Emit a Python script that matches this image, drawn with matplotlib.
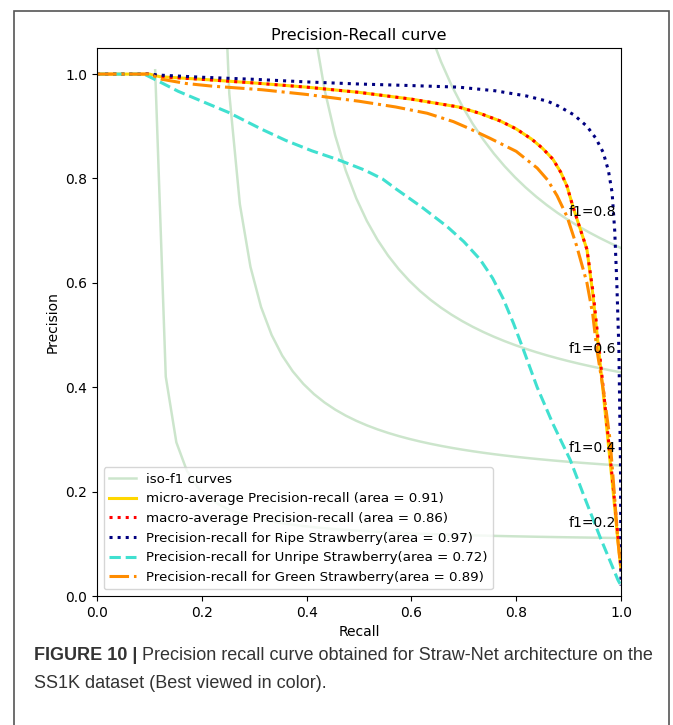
import numpy as np
import matplotlib
matplotlib.use("Agg")
import matplotlib.pyplot as plt
from matplotlib.patches import Rectangle

# ---- data ----
f1_levels = [0.2, 0.4, 0.6, 0.8]

micro_recall = [0.0, 0.10, 0.12, 0.20, 0.30, 0.40, 0.50, 0.60, 0.69, 0.73, 0.77, 0.80, 0.83, 0.85,
                0.87, 0.885, 0.897, 0.908, 0.92, 0.935, 0.946, 0.956, 0.966, 0.975, 0.985, 0.994, 1.0]
micro_prec   = [1.0, 1.00, 0.995, 0.99, 0.983, 0.975, 0.965, 0.952, 0.937, 0.925, 0.910, 0.895, 0.875, 0.858,
                0.837, 0.812, 0.785, 0.747, 0.71, 0.664, 0.58, 0.486, 0.39, 0.30, 0.20, 0.107, 0.05]

macro_recall = [0.0, 0.10, 0.12, 0.20, 0.30, 0.40, 0.50, 0.60, 0.69, 0.73, 0.77, 0.80, 0.83, 0.85,
                0.87, 0.885, 0.897, 0.908, 0.92, 0.935, 0.947, 0.957, 0.967, 0.976, 0.986, 0.995, 1.0]
macro_prec   = [1.0, 1.00, 0.995, 0.99, 0.983, 0.975, 0.965, 0.952, 0.937, 0.925, 0.910, 0.895, 0.875, 0.858,
                0.837, 0.812, 0.785, 0.747, 0.71, 0.664, 0.58, 0.486, 0.39, 0.30, 0.20, 0.107, 0.05]

ripe_recall = [0.0, 0.10, 0.12, 0.20, 0.30, 0.40, 0.50, 0.60, 0.69, 0.76, 0.82, 0.86, 0.88, 0.91,
               0.935, 0.952, 0.966, 0.976, 0.983, 0.988, 0.992, 0.996, 0.999, 1.0]
ripe_prec   = [1.0, 1.00, 0.998, 0.994, 0.99, 0.985, 0.981, 0.978, 0.975, 0.968, 0.958, 0.948, 0.939, 0.922,
               0.900, 0.877, 0.850, 0.815, 0.773, 0.70, 0.60, 0.472, 0.25, 0.02]

unripe_recall = [0.0, 0.09, 0.12, 0.155, 0.20, 0.25, 0.315, 0.36, 0.41, 0.46, 0.511, 0.545, 0.572, 0.62,
                 0.668, 0.70, 0.731, 0.755, 0.775, 0.795, 0.813, 0.84, 0.87, 0.903, 0.93, 0.96, 0.98, 0.994, 1.0]
unripe_prec   = [1.0, 1.00, 0.985, 0.967, 0.948, 0.927, 0.894, 0.873, 0.853, 0.836, 0.816, 0.799, 0.779, 0.745,
                 0.708, 0.679, 0.645, 0.609, 0.570, 0.522, 0.474, 0.40, 0.33, 0.261, 0.19, 0.113, 0.065, 0.031, 0.02]

green_recall = [0.0, 0.10, 0.124, 0.17, 0.219, 0.315, 0.40, 0.50, 0.57, 0.63, 0.68, 0.712, 0.75, 0.80,
                0.84, 0.86, 0.878, 0.897, 0.915, 0.935, 0.946, 0.954, 0.967, 0.979, 0.987, 0.994, 1.0]
green_prec   = [1.0, 1.00, 0.99, 0.982, 0.977, 0.970, 0.961, 0.948, 0.937, 0.925, 0.909, 0.895, 0.877, 0.852,
                0.820, 0.797, 0.767, 0.727, 0.672, 0.60, 0.54, 0.472, 0.39, 0.30, 0.20, 0.107, 0.05]

labels = [
    "iso-f1 curves",
    "micro-average Precision-recall (area = 0.91)",
    "macro-average Precision-recall (area = 0.86)",
    "Precision-recall for Ripe Strawberry(area = 0.97)",
    "Precision-recall for Unripe Strawberry(area = 0.72)",
    "Precision-recall for Green Strawberry(area = 0.89)",
]

W, H = 673, 725
fig = plt.figure(figsize=(W / 100, H / 100), dpi=100)

# border box
fig.patches.append(Rectangle((14 / W, -0.01), (669 - 14) / W, 1 - 11 / H + 0.01,
                             transform=fig.transFigure, fill=False,
                             edgecolor="#555555", linewidth=1.2))

ax = fig.add_axes([97 / W, 1 - 596 / H, (621 - 97) / W, (596 - 48) / H])

iso_line = None
for f in f1_levels:
    x = np.linspace(0.01, 1, 50)
    y = f * x / (2 * x - f)
    m = y >= 0
    iso_line, = ax.plot(x[m], y[m], color="green", alpha=0.2, lw=1.8)
    ax.annotate("f1={0:0.1f}".format(f), xy=(0.9, y[45] + 0.02), fontsize=10)

lw = 2.2
l1, = ax.plot(micro_recall, micro_prec, color="gold", lw=lw)
l2, = ax.plot(macro_recall, macro_prec, color="red", lw=lw, linestyle=":")
l3, = ax.plot(ripe_recall, ripe_prec, color="navy", lw=lw, linestyle=":")
l4, = ax.plot(unripe_recall, unripe_prec, color="turquoise", lw=lw, linestyle="--")
l5, = ax.plot(green_recall, green_prec, color="darkorange", lw=lw, linestyle="-.")

ax.set_xlim([0.0, 1.0])
ax.set_ylim([0.0, 1.05])
ax.set_xticks([0.0, 0.2, 0.4, 0.6, 0.8, 1.0])
ax.set_yticks([0.0, 0.2, 0.4, 0.6, 0.8, 1.0])
ax.tick_params(labelsize=10)
ax.set_xlabel("Recall", fontsize=10)
ax.set_ylabel("Precision", fontsize=10)
ax.set_title("Precision-Recall curve", fontsize=11.5)
ax.legend([iso_line, l1, l2, l3, l4, l5], labels, loc="lower left", fontsize=9.6)

cap_kw = dict(fontsize=13.0, family="Liberation Sans", color="#333333", va="center")
t1 = fig.text(34 / W, 1 - 656 / H, "FIGURE 10 |", fontweight="bold", **cap_kw)
fig.canvas.draw()
bb = t1.get_window_extent()
fig.text((bb.x1 + 5) / W, 1 - 656 / H,
         "Precision recall curve obtained for Straw-Net architecture on the", **cap_kw)
fig.text(34 / W, 1 - 684 / H, "SS1K dataset (Best viewed in color).", **cap_kw)

fig.savefig("out.png", dpi=100)
